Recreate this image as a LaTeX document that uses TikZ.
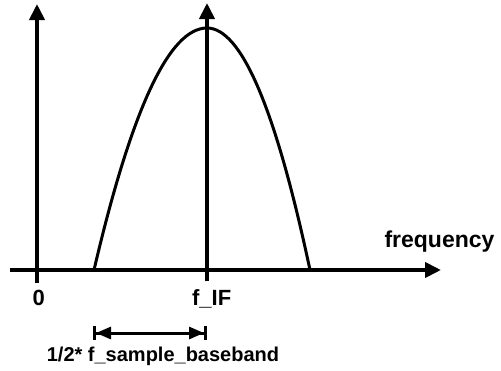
\documentclass[tikz,border=0pt]{standalone}
\usepackage{fontspec}
\setmainfont{Liberation Sans}
\usetikzlibrary{arrows.meta}
\begin{document}
\begin{tikzpicture}[x=1pt,y=-1pt,
  axis/.style={line width=3.8pt,-{Triangle[length=16pt,width=15pt]}},
  curve/.style={line width=3pt},
  span/.style={line width=3pt,{Bar[width=14pt,line width=3pt]Triangle[length=15pt,width=12pt]}-{Triangle[length=15pt,width=12pt]Bar[width=14pt,line width=3pt]}},
  lbl/.style={font=\bfseries\fontsize{22}{24}\selectfont,inner sep=0pt,anchor=base}]
\useasboundingbox (0,0) rectangle (501,370);
% axes
\coordinate (hx0) at (10,270);
\coordinate (hx1) at (441,270);
\coordinate (v0b) at (37,283);
\coordinate (v0t) at (37,4);
\coordinate (vfb) at (207,281);
\coordinate (vft) at (207,3);
\draw[axis] (hx0) -- (hx1);
\draw[axis] (v0b) -- (v0t);
\draw[axis] (vfb) -- (vft);
% curve
\coordinate (lf) at (94,270);
\coordinate (pk) at (207,28);
\coordinate (rf) at (310,270);
\draw[curve] (lf) .. controls (131.67,108.67) and (169.33,28) .. (pk)
  .. controls (241.33,28) and (275.67,108.67) .. (rf);
% span arrow
\coordinate (sa) at (93,333);
\coordinate (sb) at (207,333);
\draw[span] (sa) -- (sb);
% labels
\node[lbl] (zero) at (38.8,305.5) {0};
\node[lbl] (fif) at (211.7,305.5) {f\_IF};
\node[lbl,font=\bfseries\fontsize{23}{25}\selectfont] (freq) at (439.5,247) {frequency};
\node[lbl,font=\bfseries\fontsize{20}{22}\selectfont] (half) at (163,361.5) {1/2* f\_sample\_baseband};
\end{tikzpicture}
\end{document}
